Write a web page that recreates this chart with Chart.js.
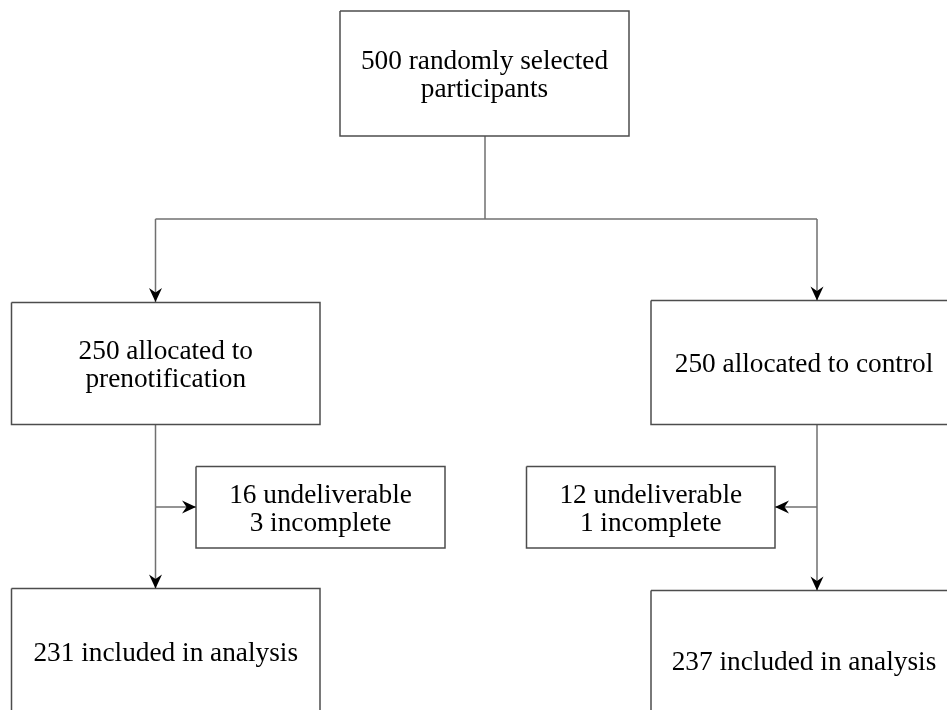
<!DOCTYPE html>
<html>
<head>
<meta charset="utf-8">
<script src="https://cdn.jsdelivr.net/npm/chart.js@4/dist/chart.umd.min.js"></script>
<style>
  html,body{margin:0;padding:0;background:#fff}
  #wrap{width:947px;height:710px;position:relative}
</style>
</head>
<body>
<div id="wrap"><canvas id="flowChart"></canvas></div>
<script>
// textos de las cajas
const boxLabels = [
  ["500 randomly selected", "participants"],
  ["250 allocated to", "prenotification"],
  ["250 allocated to control"],
  ["16 undeliverable", "3 incomplete"],
  ["12 undeliverable", "1 incomplete"],
  ["231 included in analysis"],
  ["237 included in analysis"]
];

// layout de cajas [x0, y0, x1, y1] en unidades del diagrama
const boxLayout = [
  [340, 11, 629, 136],
  [11.5, 302.5, 320, 424.5],
  [651, 300.5, 957, 424.5],
  [196, 466.5, 445, 548],
  [526.5, 466.5, 775, 548],
  [11.5, 588.5, 320, 714],
  [651, 590.5, 957, 731]
];

// conectores: puntos y direccion de la flecha al final (null = sin flecha)
const linkPaths = [
  [[485, 136], [485, 219]],
  [[155.5, 219], [817, 219]],
  [[155.5, 219], [155.5, 302]],
  [[817, 219], [817, 300.5]],
  [[155.5, 424.5], [155.5, 588.5]],
  [[155.5, 507], [196, 507]],
  [[817, 424.5], [817, 590.5]],
  [[817, 507], [775, 507]]
];
const linkArrows = [null, null, "down", "down", "down", "right", "down", "left"];

const FONT = '27.3px "Liberation Serif", "Times New Roman", serif';

let datasets = [];
boxLayout.forEach(b => {
  datasets.push({
    data: [{x:b[0],y:b[1]},{x:b[2],y:b[1]},{x:b[2],y:b[3]},{x:b[0],y:b[3]},{x:b[0],y:b[1]}],
    showLine: true, borderColor: "#4d4d4d", borderWidth: 1.5, pointRadius: 0, fill: false, tension: 0
  });
});
linkPaths.forEach(p => {
  datasets.push({
    data: p.map(q => ({x:q[0], y:q[1]})),
    showLine: true, borderColor: "#707070", borderWidth: 1.5, pointRadius: 0, fill: false, tension: 0
  });
});

// flechas y textos
const flowPlugin = {
  id: "flowPlugin",
  afterDatasetsDraw(chart){
    const ctx = chart.ctx, sx = chart.scales.x, sy = chart.scales.y;
    ctx.save();
    // puntas de flecha
    linkPaths.forEach((p, i) => {
      const dir = linkArrows[i];
      if(!dir) return;
      const end = p[p.length-1];
      const tx = sx.getPixelForValue(end[0]), ty = sy.getPixelForValue(end[1]);
      const ang = {down: Math.PI/2, right: 0, left: Math.PI, up: -Math.PI/2}[dir];
      ctx.save();
      ctx.translate(tx, ty);
      ctx.rotate(ang);
      ctx.beginPath();
      ctx.moveTo(0, 0);
      ctx.lineTo(-14, -6.5);
      ctx.lineTo(-9.5, 0);
      ctx.lineTo(-14, 6.5);
      ctx.closePath();
      ctx.fillStyle = "#000";
      ctx.fill();
      ctx.restore();
    });
    // textos
    ctx.font = FONT;
    ctx.fillStyle = "#000";
    ctx.textAlign = "center";
    ctx.textBaseline = "alphabetic";
    const lh = 28, capH = 18.5;
    boxLabels.forEach((lines, i) => {
      const b = boxLayout[i];
      const cx = sx.getPixelForValue((b[0]+b[2])/2);
      const cy = sy.getPixelForValue((b[1]+b[3])/2);
      const base = cy + capH/2 - (lines.length-1)*lh/2;
      lines.forEach((t, j) => ctx.fillText(t, cx, base + j*lh));
    });
    ctx.restore();
  }
};

new Chart(document.getElementById("flowChart").getContext("2d"), {
  type: "scatter",
  data: { datasets: datasets },
  options: {
    responsive: true,
    maintainAspectRatio: false,
    animation: false,
    layout: { padding: 0 },
    plugins: { legend: {display:false}, tooltip: {enabled:false} },
    scales: {
      x: { type: "linear", min: 0, max: 947, display: false },
      y: { type: "linear", min: 0, max: 710, reverse: true, display: false }
    }
  },
  plugins: [flowPlugin]
});
</script>
</body>
</html>
